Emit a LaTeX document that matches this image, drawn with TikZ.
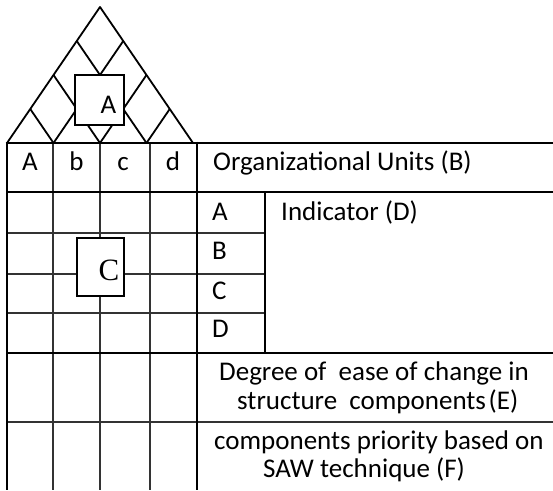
\documentclass[tikz,border=0pt]{standalone}
\usepackage{fontspec}
\setmainfont{Carlito}
\newfontfamily\tnr{Liberation Serif}
\begin{document}
\begin{tikzpicture}[x=1pt,y=-1pt,
  thickline/.style={line width=2.8pt},
  thinline/.style={line width=1.3pt, draw=black!80},
  triline/.style={line width=1.8pt},
  boxstyle/.style={draw, line width=1.6pt, fill=white},
  txt/.style={inner sep=0pt, font=\fontsize{27}{31}\selectfont},
  big/.style={inner sep=0pt, font=\tnr\fontsize{31}{34}\selectfont}]
\useasboundingbox (0,0) rectangle (553,490);
% thin grid lines
\foreach \x in {53,100,150} \draw[thinline] (\x,143) -- (\x,490);
\foreach \y in {233,274,313} \draw[thinline] (7,\y) -- (265,\y);
\draw[thinline] (7,422) -- (553,422);
% thick grid lines
\draw[thickline] (7,141.6) -- (7,490);
\draw[thickline] (197,141.6) -- (197,490);
\draw[thickline] (265,192) -- (265,353);
\draw[thickline] (5.6,143) -- (553,143);
\draw[thickline] (7,192) -- (553,192);
\draw[thickline] (7,353) -- (553,353);
% triangle with diamond lattice
\draw[triline, line join=round] (7,143) -- (100,7) -- (193,143);
\foreach \i in {1,2,3} {
  \pgfmathsetmacro{\bx}{7+46.5*\i}
  \pgfmathsetmacro{\s}{1-\i/4}
  \pgfmathsetmacro{\t}{\i/4}
  \draw[triline] (\bx,143) -- ({\bx+93*\s},{143-136*\s});
  \draw[triline] (\bx,143) -- ({\bx-93*\t},{143-136*\t});
}
% boxes A and C
\draw[boxstyle] (75,75) rectangle (124,125);
\node[txt, anchor=base] (boxA) at (108.5,113) {A};
\draw[boxstyle] (77,238) rectangle (124,296);
\node[big, anchor=base] (boxC) at (109,280) {C};
% header letters
\node[txt, anchor=base] (hA) at (30,170) {A};
\node[txt, anchor=base] (hb) at (76.5,170) {b};
\node[txt, anchor=base] (hc) at (123,170) {c};
\node[txt, anchor=base] (hd) at (173,170) {d};
\node[txt, anchor=base west] (orgB) at (213,170) {Organizational Units (B)};
% indicator rows
\node[txt, anchor=base west] (rA) at (212,220) {A};
\node[txt, anchor=base west] (rB) at (212,259) {B};
\node[txt, anchor=base west] (rC) at (212,299) {C};
\node[txt, anchor=base west] (rD) at (212,337) {D};
\node[txt, anchor=base west] (indD) at (281,220) {Indicator (D)};
% bottom texts
\node[txt, anchor=base west] (E1) at (219,380) {Degree of\ \ ease of change in};
\node[txt, anchor=base west] (E2) at (237,409) {structure\ \ components\hspace{0.1em}(E)};
\node[txt, anchor=base west] (F1) at (214,449) {components priority based on};
\node[txt, anchor=base west] (F2) at (263,477) {SAW technique (F)};
\end{tikzpicture}
\end{document}
